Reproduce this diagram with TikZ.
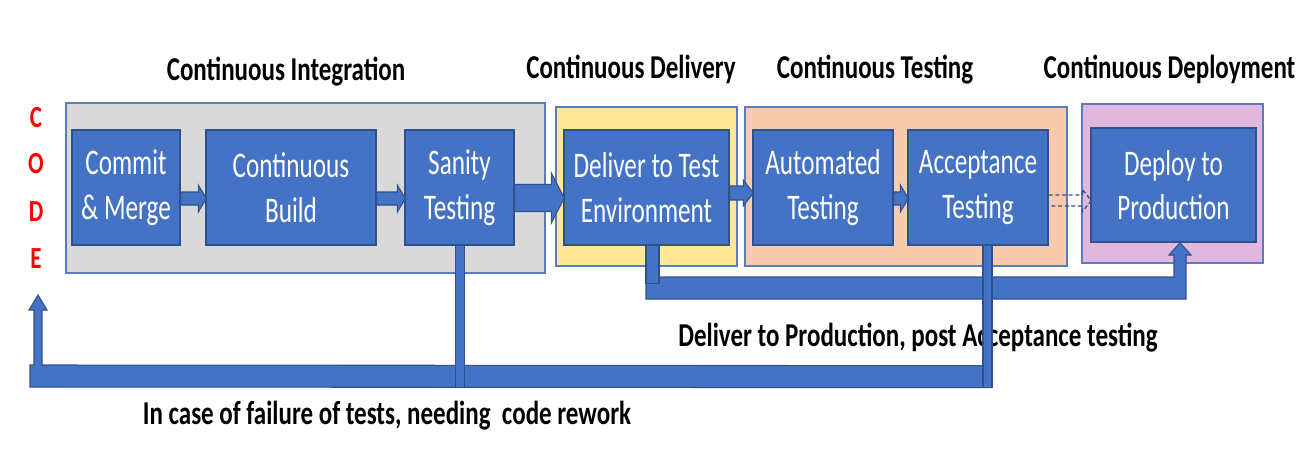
\documentclass[tikz,border=0pt]{standalone}
\usepackage{fontspec}
\setmainfont{Carlito}
\newfontfamily\boxfont[FakeStretch=0.7]{Carlito}
\newfontfamily\lblfont[FakeStretch=0.75]{Carlito}
\usetikzlibrary{calc}
\definecolor{boxblue}{HTML}{4472C4}
\definecolor{boxline}{HTML}{2F528F}
\definecolor{frameline}{HTML}{5B7BC0}
\definecolor{cigray}{HTML}{D9D9D9}
\definecolor{cdyellow}{HTML}{FFE699}
\definecolor{ctorange}{HTML}{F8CBAD}
\definecolor{cppurple}{HTML}{E0B8DE}
\def\u{0.75pt}
\tikzset{
  frame/.style={draw=frameline, line width=0.8pt, inner sep=0pt},
  box/.style={draw=boxline, line width=1pt, fill=boxblue, text=white, inner sep=0pt,
    align=center, font=\boxfont\fontsize{27}{33.5}\selectfont},
  title/.style={anchor=base, inner sep=0pt, font=\lblfont\bfseries\fontsize{25}{29}\selectfont},
  codeletter/.style={anchor=base, inner sep=0pt, text=red, font=\lblfont\bfseries\fontsize{23}{24}\selectfont},
  fat/.style={draw=boxline, line width=0.8pt, fill=boxblue, line join=miter},
  dashfat/.style={draw=boxline, line width=1pt, dashed, dash pattern=on 3pt off 2pt}
}
\newcommand\fatarrow[6]{%
  \draw[fat] ($(#1.east |- 0,#3)+(0,-#4)$) -- ($(#2.west |- 0,#3)+(-#6,-#4)$)
    -- ($(#2.west |- 0,#3)+(-#6,-#5)$) -- ($(#2.west |- 0,#3)+(1,0)$)
    -- ($(#2.west |- 0,#3)+(-#6,#5)$) -- ($(#2.west |- 0,#3)+(-#6,#4)$)
    -- ($(#1.east |- 0,#3)+(0,#4)$) -- cycle;}
\begin{document}
\begin{tikzpicture}[x=0.75pt, y=-0.75pt]
\useasboundingbox[fill=white] (0,0) rectangle (1314,458);

% stage frames
\node[frame, fill=cigray, minimum width=479*\u, minimum height=170*\u] (ci) at (305.5,188) {};
\node[frame, fill=cdyellow, minimum width=181*\u, minimum height=159*\u] (cd) at (646.5,186.5) {};
\node[frame, fill=ctorange, minimum width=322*\u, minimum height=159*\u] (ct) at (906,186.5) {};
\node[frame, fill=cppurple, minimum width=181*\u, minimum height=159*\u] (cp) at (1172.5,183.5) {};

% titles
\node[title] (tci) at (286,80) {Continuous Integration};
\node[title] (tcd) at (631,78) {Continuous Delivery};
\node[title] (tct) at (875,78) {Continuous Testing};
\node[title] (tcp) at (1169.5,78) {Continuous Deployment};

% CODE
\node[codeletter] (c1) at (36,127) {C};
\node[codeletter] (c2) at (36,173) {O};
\node[codeletter] (c3) at (36,221) {D};
\node[codeletter] (c4) at (36,268) {E};

% process boxes
\node[box, minimum width=108*\u, minimum height=115*\u] (commit) at (126,187.5) {Commit\\\& Merge};
\node[box, minimum width=170*\u, minimum height=115*\u] (build) at (291,187.5) {Continuous\\Build};
\node[box, minimum width=109*\u, minimum height=115*\u] (sanity) at (459.5,187.5) {Sanity\\Testing};
\node[box, minimum width=165*\u, minimum height=115*\u] (deliver) at (646.5,187.5) {Deliver to Test\\Environment};
\node[box, minimum width=140*\u, minimum height=115*\u] (auto) at (823,187.5) {Automated\\Testing};
\node[box, minimum width=140*\u, minimum height=115*\u] (accept) at (978,187.5) {Acceptance\\Testing};
\node[box, minimum width=165*\u, minimum height=114*\u] (deploy) at (1173.5,185) {Deploy to\\Production};

% forward arrows
\fatarrow{commit}{build}{198.5}{6.5}{13.5}{7}
\fatarrow{build}{sanity}{198.5}{6.5}{13.5}{7}
\fatarrow{sanity}{deliver}{198}{13.5}{25}{12}
\fatarrow{deliver}{auto}{193}{7}{13}{9}
\fatarrow{auto}{accept}{198.5}{6.5}{13.5}{7}

% dashed arrow acceptance -> deploy
\draw[dashfat] ($(accept.east |- 0,200.5)+(0,-5.5)$) -- ($(deploy.west |- 0,200.5)+(-8,-5.5)$)
  -- ($(deploy.west |- 0,200.5)+(-8,-11)$) -- ($(deploy.west |- 0,200.5)+(1,0)$)
  -- ($(deploy.west |- 0,200.5)+(-8,11)$) -- ($(deploy.west |- 0,200.5)+(-8,5.5)$)
  -- ($(accept.east |- 0,200.5)+(0,5.5)$);

% deliver to production path
\coordinate (dtip) at ($(deploy.south)+(6.5,0)$);
\draw[fat] (646,277) -- ($(dtip |- 0,277)+(-6,0)$) -- ($(dtip |- 0,255)+(-6,0)$)
  -- ($(dtip |- 0,255)+(-11,0)$) -- (dtip) -- ($(dtip |- 0,255)+(11,0)$)
  -- ($(dtip |- 0,255)+(6,0)$) -- ($(dtip |- 0,299)+(6,0)$) -- (646,299) -- cycle;
\draw[fat] ($(deliver.south)+(-0.5,0)$) rectangle ($(deliver.south)+(12.5,38)$);

\node[title] (lprod) at (918,346) {Deliver to Production, post Acceptance testing};

% rework path
\coordinate (codein) at (38,295);
\draw[fat] (30,387) -- ($(accept.south)+(14,142)$) -- ($(accept.south)+(14,120)$) -- (42,365)
  -- (42,310) -- (47,310) -- (codein) -- (29,310) -- (34,310) -- (34,365) -- (30,365) -- cycle;
\draw[fat] ($(sanity.south)+(-4,0)$) rectangle ($(sanity.south)+(5,142)$);
\draw[fat] ($(accept.south)+(5,0)$) rectangle ($(accept.south)+(14,142)$);

\node[title] (lfail) at (387,424) {In case of failure of tests, needing~~code rework};
\end{tikzpicture}
\end{document}
